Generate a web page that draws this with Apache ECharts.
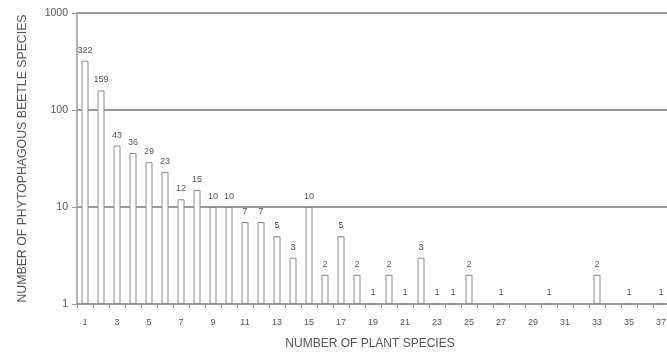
<!DOCTYPE html>
<html>
<head>
<meta charset="utf-8">
<script src="https://cdn.jsdelivr.net/npm/echarts@6/dist/echarts.min.js"></script>
<style>
  html, body { margin: 0; padding: 0; background: #fff; }
  #chart { width: 667px; height: 354px; }
</style>
</head>
<body>
<div id="chart"></div>
<script>
// Number of plant species a beetle species feeds on (1..38)
const plantSpecies = Array.from({ length: 38 }, (_, i) => String(i + 1));

// Number of phytophagous beetle species for each count ('-' = none)
const beetleSpecies = [
  322, 159, 43, 36, 29, 23, 12, 15, 10, 10,
  7, 7, 5, 3, 10, 2, 5, 2, 1, 2,
  1, 3, 1, 1, 2, '-', 1, '-', '-', 1,
  '-', '-', 2, '-', 1, '-', 1, '-'
];

const yTicks = [1, 10, 100, 1000];

const FONT = 'Liberation Sans';
const TEXT = '#555';
const LINE = '#9a9a9a';

const chart = echarts.init(document.getElementById('chart'), null, { renderer: 'canvas' });

chart.setOption({
  animation: false,
  backgroundColor: '#fff',
  // the last categories run past the right edge of the page
  grid: { left: 77, top: 13, bottom: 50, width: 608, containLabel: false, outerBoundsMode: 'none' },
  xAxis: {
    type: 'category',
    data: plantSpecies,
    name: 'NUMBER OF PLANT SPECIES',
    nameLocation: 'middle',
    nameGap: 34,
    // title sits over the visible part of the axis
    nameTextStyle: { fontFamily: FONT, fontSize: 12, color: TEXT, padding: [0, 22, 0, 0] },
    axisLine: { lineStyle: { color: LINE, width: 1.5 } },
    axisTick: { show: true, interval: 0, length: 4, lineStyle: { color: LINE } },
    axisLabel: { interval: 1, margin: 14, fontFamily: FONT, fontSize: 9, color: TEXT },
    splitLine: { show: false }
  },
  yAxis: {
    type: 'log',
    logBase: 10,
    min: yTicks[0],
    max: yTicks[yTicks.length - 1],
    name: 'NUMBER OF PHYTOPHAGOUS BEETLE SPECIES',
    nameLocation: 'middle',
    nameGap: 48,
    nameRotate: 90,
    nameTextStyle: { fontFamily: FONT, fontSize: 12.3, color: TEXT },
    axisLine: { show: true, lineStyle: { color: LINE, width: 1.5 } },
    axisTick: { show: true, length: 5, lineStyle: { color: LINE } },
    axisLabel: { margin: 9, fontFamily: FONT, fontSize: 10.5, color: TEXT, formatter: (v) => String(v) },
    splitLine: { show: true, lineStyle: { color: LINE, width: 2 } }
  },
  series: [{
    type: 'bar',
    data: beetleSpecies,
    barWidth: 7,
    itemStyle: { color: '#fff', borderColor: '#8a8a8a', borderWidth: 1 },
    label: {
      show: true,
      position: 'top',
      distance: 6,
      fontFamily: FONT,
      fontSize: 9,
      color: TEXT
    }
  }]
});
</script>
</body>
</html>
